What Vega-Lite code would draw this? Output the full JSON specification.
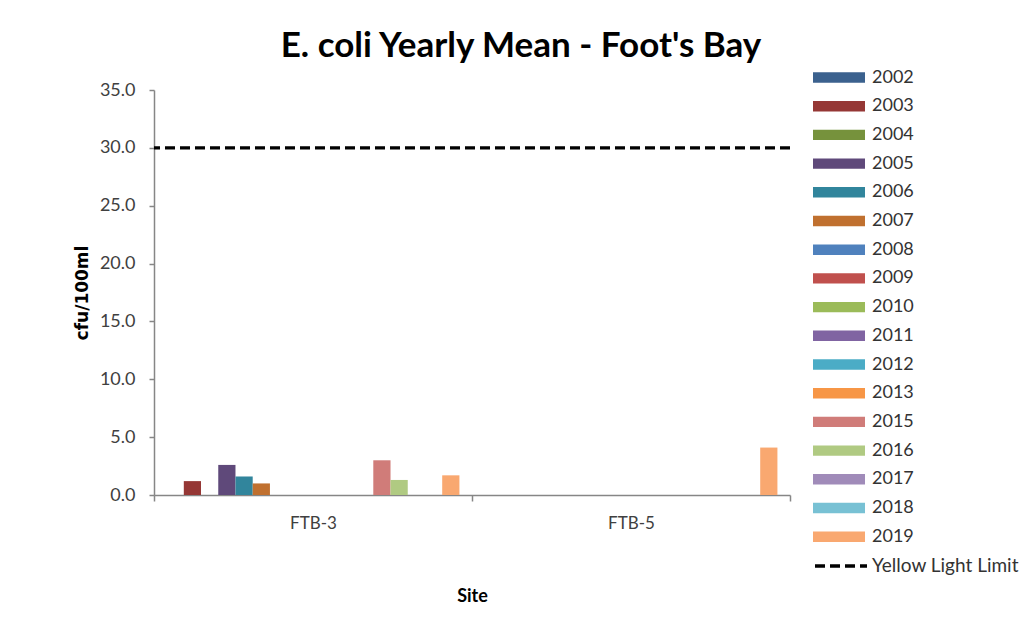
{
  "$schema": "https://vega.github.io/schema/vega-lite/v6.json",
  "width": 636,
  "height": 405,
  "autosize": {"type": "none"},
  "padding": {"left": 154, "top": 90, "right": 239, "bottom": 124},
  "background": "white",
  "title": {
    "text": "E. coli Yearly Mean - Foot's Bay",
    "anchor": "middle",
    "frame": "group",
    "dx": 49,
    "font": "Lato",
    "fontSize": 35,
    "fontWeight": "bold",
    "color": "#000000",
    "offset": 5
  },
  "config": {
    "view": {"stroke": null},
    "axis": {
      "grid": false,
      "domainColor": "#868686",
      "domainWidth": 1.5,
      "tickColor": "#868686",
      "tickWidth": 1.5,
      "labelFont": "Lato",
      "labelFontSize": 17,
      "labelColor": "#404040",
      "titleColor": "#000000"
    }
  },
  "layer": [
    {
      "data": {
        "values": [
          {"site": "FTB-3", "year": "2003", "mean": 1.2},
          {"site": "FTB-3", "year": "2005", "mean": 2.6},
          {"site": "FTB-3", "year": "2006", "mean": 1.6},
          {"site": "FTB-3", "year": "2007", "mean": 1.0},
          {"site": "FTB-3", "year": "2015", "mean": 3.0},
          {"site": "FTB-3", "year": "2016", "mean": 1.3},
          {"site": "FTB-3", "year": "2019", "mean": 1.7},
          {"site": "FTB-5", "year": "2019", "mean": 4.1}
        ]
      },
      "mark": {"type": "bar"},
      "encoding": {
        "x": {
          "field": "site",
          "type": "nominal",
          "scale": {"domain": ["FTB-3", "FTB-5"], "paddingInner": 0, "paddingOuter": 0},
          "axis": {
            "title": "Site",
            "labelAngle": 0,
            "tickBand": "extent",
            "tickSize": 6,
            "labelPadding": 14,
            "titlePadding": 56,
            "titleFont": "Lato",
            "titleFontSize": 18,
            "titleFontWeight": "bold"
          }
        },
        "xOffset": {
          "field": "year",
          "type": "nominal",
          "scale": {
            "domain": ["2002", "2003", "2004", "2005", "2006", "2007", "2008", "2009", "2010", "2011", "2012", "2013", "2015", "2016", "2017", "2018", "2019"],
            "paddingOuter": 0.73,
            "paddingInner": 0
          }
        },
        "y": {
          "field": "mean",
          "type": "quantitative",
          "title": "cfu/100ml",
          "scale": {"domain": [0, 35], "nice": false},
          "axis": {
            "values": [0, 5, 10, 15, 20, 25, 30, 35],
            "format": ".1f",
            "tickSize": 5,
            "labelPadding": 14,
            "labelFontSize": 18,
            "titlePadding": 8,
            "titleFont": "DejaVu Sans",
            "titleFontSize": 17,
            "titleFontWeight": "bold"
          }
        },
        "color": {
          "field": "year",
          "type": "nominal",
          "scale": {
            "domain": ["2002", "2003", "2004", "2005", "2006", "2007", "2008", "2009", "2010", "2011", "2012", "2013", "2015", "2016", "2017", "2018", "2019"],
            "range": ["#3B618E", "#953735", "#76923C", "#5F497A", "#31859C", "#C0702F", "#4F81BD", "#C0504D", "#9BBB59", "#8064A2", "#4BACC6", "#F79646", "#D07C79", "#B0CA82", "#A08BB9", "#78C1D4", "#F9A870"]
          },
          "legend": {
            "orient": "none",
            "legendX": 659,
            "legendY": -21.5,
            "title": null,
            "padding": 0,
            "symbolType": "M-1,-0.2H1V0.2H-1Z",
            "symbolSize": 2704,
            "symbolStrokeWidth": 0,
            "symbolOpacity": 1,
            "clipHeight": 18,
            "rowPadding": 10.7,
            "labelFont": "Lato",
            "labelFontSize": 18,
            "labelColor": "#333333",
            "labelOffset": 7
          }
        }
      }
    },
    {
      "data": {"values": [{"limit": 30, "series": "Yellow Light Limit"}]},
      "mark": {"type": "rule", "color": "#000000", "strokeWidth": 3.2},
      "encoding": {
        "y": {"field": "limit", "type": "quantitative", "title": "cfu/100ml"},
        "strokeDash": {
          "field": "series",
          "type": "nominal",
          "scale": {"range": [[10, 5]]},
          "legend": {
            "orient": "none",
            "legendX": 659,
            "legendY": 467,
            "title": null,
            "padding": 0,
            "symbolType": "stroke",
            "symbolSize": 2704,
            "symbolStrokeWidth": 3.5,
            "symbolStrokeColor": "#000000",
            "clipHeight": 18,
            "labelFont": "Lato",
            "labelFontSize": 19,
            "labelColor": "#333333",
            "labelOffset": 3
          }
        }
      }
    }
  ]
}
